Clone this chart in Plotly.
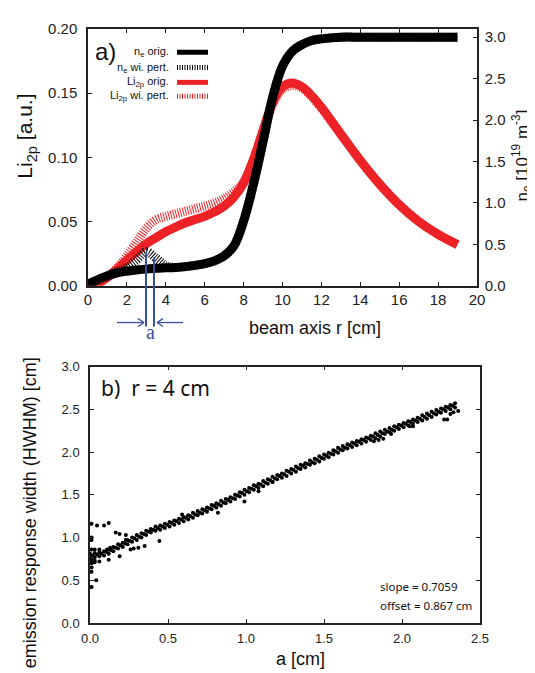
import plotly.graph_objects as go

# ---- panel a) : profiles along the beam axis ----
r_cm = [0, 0.5, 1, 1.5, 2, 2.5, 3, 3.5, 4, 4.5, 5, 5.5, 6, 6.5, 7, 7.5,
        8, 8.5, 9, 9.5, 10, 10.5, 11, 11.5, 12, 13, 14, 15, 16, 17, 18, 19]

# electron density [1e19 m^-3] (right axis)
ne_orig = [0.02, 0.07, 0.12, 0.155, 0.175, 0.19, 0.2, 0.21, 0.215, 0.22, 0.23, 0.245,
           0.265, 0.30, 0.36, 0.48, 0.78, 1.22, 1.74, 2.28, 2.65, 2.83, 2.91, 2.96,
           2.98, 3.0, 3.0, 3.0, 3.0, 3.0, 3.0, 3.0]
ne_pert = [0.02, 0.07, 0.12, 0.17, 0.22, 0.31, 0.41, 0.33, 0.24, 0.22, 0.23, 0.245,
           0.265, 0.30, 0.36, 0.48, 0.78, 1.22, 1.74, 2.28, 2.65, 2.83, 2.91, 2.96,
           2.98, 3.0, 3.0, 3.0, 3.0, 3.0, 3.0, 3.0]

# Li2p emission [a.u.] (left axis)
li_orig = [0.0, 0.002, 0.0064, 0.013, 0.020, 0.0265, 0.0327, 0.0374, 0.042, 0.0456,
           0.049, 0.0515, 0.054, 0.0575, 0.062, 0.069, 0.080, 0.098, 0.121, 0.143,
           0.155, 0.158, 0.155, 0.148, 0.139, 0.118, 0.0975, 0.079, 0.063, 0.050,
           0.040, 0.032]
li_pert = [0.0, 0.002, 0.0066, 0.014, 0.023, 0.034, 0.0446, 0.0515, 0.054, 0.056,
           0.058, 0.060, 0.062, 0.0644, 0.068, 0.073, 0.081, 0.098, 0.120, 0.141,
           0.153, 0.156, 0.154, 0.147, 0.138, 0.118, 0.0975, 0.079, 0.063, 0.050,
           0.040, 0.032]

# ---- panel b) : response width vs perturbation width ----
band_a = [0.00, 0.03, 0.06, 0.09, 0.12, 0.15, 0.18, 0.21, 0.24, 0.27, 0.30, 0.33,
          0.36, 0.39, 0.42, 0.45, 0.48, 0.51, 0.54, 0.57, 0.60, 0.63, 0.66, 0.69,
          0.72, 0.75, 0.78, 0.81, 0.84, 0.87, 0.90, 0.93, 0.96, 0.99, 1.02, 1.05,
          1.08, 1.11, 1.14, 1.17, 1.20, 1.23, 1.26, 1.29, 1.32, 1.35, 1.38, 1.41,
          1.44, 1.47, 1.50, 1.53, 1.56, 1.59, 1.62, 1.65, 1.68, 1.71, 1.74, 1.77,
          1.80, 1.83, 1.86, 1.89, 1.92, 1.95, 1.98, 2.01, 2.04, 2.07, 2.10, 2.13,
          2.16, 2.19, 2.22, 2.25, 2.28, 2.31, 2.34]
band_w_hi = [0.81, 0.82, 0.83, 0.84, 0.86, 0.89, 0.92, 0.94, 0.97, 1.00, 1.03, 1.05,
             1.08, 1.10, 1.13, 1.14, 1.16, 1.18, 1.20, 1.22, 1.24, 1.26, 1.29, 1.31,
             1.33, 1.35, 1.38, 1.40, 1.43, 1.45, 1.47, 1.50, 1.53, 1.56, 1.58, 1.61,
             1.63, 1.66, 1.68, 1.71, 1.73, 1.75, 1.78, 1.80, 1.83, 1.85, 1.87, 1.90,
             1.92, 1.95, 1.97, 1.99, 2.02, 2.05, 2.07, 2.09, 2.11, 2.13, 2.15, 2.17,
             2.19, 2.22, 2.24, 2.26, 2.28, 2.30, 2.32, 2.34, 2.36, 2.38, 2.40, 2.43,
             2.45, 2.47, 2.49, 2.51, 2.53, 2.55, 2.57]
band_w_lo = [0.76, 0.77, 0.78, 0.79, 0.81, 0.84, 0.87, 0.89, 0.92, 0.95, 0.97, 1.00,
             1.03, 1.06, 1.08, 1.09, 1.11, 1.13, 1.15, 1.17, 1.19, 1.21, 1.23, 1.26,
             1.28, 1.30, 1.33, 1.35, 1.37, 1.40, 1.42, 1.45, 1.48, 1.50, 1.53, 1.56,
             1.58, 1.60, 1.63, 1.65, 1.68, 1.70, 1.72, 1.75, 1.77, 1.80, 1.82, 1.85,
             1.87, 1.89, 1.92, 1.94, 1.97, 1.99, 2.02, 2.04, 2.06, 2.08, 2.10, 2.12,
             2.14, 2.16, 2.18, 2.21, 2.23, 2.25, 2.27, 2.29, 2.31, 2.33, 2.35, 2.37,
             2.39, 2.41, 2.44, 2.46, 2.48, 2.50, 2.52]
band_a_mid = [0.015, 0.045, 0.075, 0.105, 0.135, 0.165, 0.195, 0.225, 0.255, 0.285,
              0.315, 0.345, 0.375, 0.405, 0.435, 0.465, 0.495, 0.525, 0.555, 0.585,
              0.615, 0.645, 0.675, 0.705, 0.735, 0.765, 0.795, 0.825, 0.855, 0.885,
              0.915, 0.945, 0.975, 1.005, 1.035, 1.065, 1.095, 1.125, 1.155, 1.185,
              1.215, 1.245, 1.275, 1.305, 1.335, 1.365, 1.395, 1.425, 1.455, 1.485,
              1.515, 1.545, 1.575, 1.605, 1.635, 1.665, 1.695, 1.725, 1.755, 1.785,
              1.815, 1.845, 1.875, 1.905, 1.935, 1.965, 1.995, 2.025, 2.055, 2.085,
              2.115, 2.145, 2.175, 2.205, 2.235, 2.265, 2.295, 2.325]
band_w_mid = [0.79, 0.80, 0.81, 0.83, 0.85, 0.88, 0.91, 0.93, 0.96, 0.99, 1.01, 1.04,
              1.07, 1.09, 1.11, 1.13, 1.15, 1.17, 1.19, 1.21, 1.23, 1.25, 1.27, 1.29,
              1.32, 1.34, 1.37, 1.39, 1.41, 1.44, 1.46, 1.49, 1.52, 1.54, 1.57, 1.60,
              1.62, 1.64, 1.67, 1.69, 1.72, 1.74, 1.77, 1.79, 1.81, 1.84, 1.86, 1.88,
              1.91, 1.93, 1.96, 1.98, 2.01, 2.03, 2.05, 2.08, 2.10, 2.12, 2.14, 2.16,
              2.18, 2.20, 2.22, 2.24, 2.26, 2.29, 2.31, 2.33, 2.35, 2.37, 2.39, 2.41,
              2.43, 2.45, 2.47, 2.50, 2.52, 2.54]
# scattered points away from the main band
spread_a = [0.01, 0.01, 0.01, 0.01, 0.01, 0.01, 0.01, 0.01, 0.01, 0.01, 0.03, 0.03,
            0.03, 0.04, 0.045, 0.06, 0.06, 0.09, 0.11, 0.12, 0.12, 0.13, 0.165, 0.19,
            0.19, 0.23, 0.23, 0.26, 0.28, 0.31, 0.35, 0.445, 0.59, 0.82, 0.99, 1.08,
            1.17, 1.82, 1.85, 1.88, 1.93, 2.05, 2.07, 2.27, 2.29, 2.31, 2.33, 2.36]
spread_w = [0.42, 0.60, 0.65, 0.70, 0.72, 0.74, 0.86, 0.97, 1.00, 1.16, 0.71, 0.73,
            0.86, 0.50, 1.14, 0.72, 0.86, 1.14, 0.86, 1.17, 0.74, 0.88, 1.06, 1.04,
            0.78, 1.03, 0.97, 0.86, 0.87, 0.88, 0.90, 0.96, 1.27, 1.29, 1.42, 1.54,
            1.65, 2.125, 2.14, 2.155, 2.21, 2.30, 2.30, 2.38, 2.38, 2.445, 2.465, 2.48]

# page body has an 8px margin, so figure is 8px smaller and coords are shifted
OFF = 8
W, H = 527, 665
ML, MR, MT, MB = 80, 55, 14, 50
BLUE = "#3b4ea0"
RED = "#ec2227"
SANS = "Liberation Sans, Arial, sans-serif"
NARROW = "Liberation Sans Narrow, Liberation Sans, sans-serif"
MYR = "Noto Sans, Open Sans, sans-serif"


def px_x(px):
    # screen pixel -> paper x
    return (px - OFF - ML) / (W - ML - MR)


def px_y(py):
    # screen pixel -> paper y
    return (H - MB - (py - OFF)) / (H - MT - MB)


fig = go.Figure()

# perturbed curves first (hatched), originals on top
fig.add_trace(go.Scatter(x=r_cm, y=ne_pert, yaxis="y2", mode="lines",
                         line=dict(color="black", width=9, dash="1px,1.5px", shape="spline")))
fig.add_trace(go.Scatter(x=r_cm, y=li_pert, mode="lines",
                         line=dict(color=RED, width=9, dash="1px,1.5px", shape="spline")))
fig.add_trace(go.Scatter(x=r_cm, y=ne_orig, yaxis="y2", mode="lines",
                         line=dict(color="black", width=9, shape="spline")))
fig.add_trace(go.Scatter(x=r_cm, y=li_orig, mode="lines",
                         line=dict(color=RED, width=9, shape="spline")))

dot = dict(color="black", size=4, symbol="circle")
for xs, ys in [(band_a, band_w_hi), (band_a, band_w_lo),
               (band_a_mid, band_w_mid), (spread_a, spread_w)]:
    fig.add_trace(go.Scatter(x=xs, y=ys, xaxis="x2", yaxis="y3",
                             mode="markers", marker=dot))

axis_common = dict(showgrid=False, zeroline=False, showline=True, linecolor="#222",
                   linewidth=1.5, ticks="inside", ticklen=4, tickcolor="#222",
                   tickwidth=1)
top_font = dict(family=SANS, size=15, color="#222")
bot_font = dict(family=NARROW, size=13, color="#222")

fig.update_layout(
    width=W, height=H, showlegend=False,
    margin=dict(l=ML, r=MR, t=MT, b=MB),
    plot_bgcolor="white", paper_bgcolor="white",
    xaxis=dict(domain=[0, px_x(477)], anchor="y", range=[0, 20], dtick=2,
               mirror="ticks", tickfont=top_font, ticklabelstandoff=0, **axis_common),
    yaxis=dict(domain=[px_y(281.7), 1], anchor="x", range=[0, 0.2], dtick=0.05,
               tickformat=".2f", mirror=True, tickfont=top_font,
               ticklabelstandoff=6, **axis_common),
    yaxis2=dict(overlaying="y", side="right", anchor="x", range=[0, 3.099], dtick=0.5,
                tickformat=".1f", tickfont=top_font, ticklabelstandoff=3,
                **axis_common),
    xaxis2=dict(domain=[px_x(90), 1], anchor="y3", range=[0, 2.5], dtick=0.5,
                tickformat=".1f", mirror="ticks", tickfont=bot_font,
                ticklabelstandoff=3, **axis_common),
    yaxis3=dict(domain=[0, px_y(363.5)], anchor="x2", range=[0, 3.0], dtick=0.5,
                tickformat=".1f", mirror="ticks", tickfont=bot_font,
                ticklabelstandoff=6, **axis_common),
)

ann = []


def text(px, py, s, size, family=SANS, color="#111", xanchor="center", angle=0):
    ann.append(dict(x=px_x(px), y=px_y(py), xref="paper", yref="paper", text=s,
                    showarrow=False, xanchor=xanchor, yanchor="middle", textangle=angle,
                    font=dict(family=family, size=size, color=color)))


# axis titles
text(315, 325, "beam axis r [cm]", 18)
text(26, 131, "Li<sub>2p</sub> [a.u.]", 21, angle=-90)
text(522, 150, "n<sub>e</sub> [10<sup>19</sup> m<sup>-3</sup>]", 17, angle=-90)
text(300, 659, "a [cm]", 18, family=NARROW)
text(30, 512, "emission response width (HWHM) [cm]", 18, angle=-90)

# panel labels
text(93, 45, "a)", 24, xanchor="left")
text(99, 385, "b)  r = 4 cm", 21, family=MYR, xanchor="left")
text(378, 586, "slope = 0.7059", 11.5, family=MYR, xanchor="left")
text(378, 605, "offset = 0.867 cm", 11.5, family=MYR, xanchor="left")

# hand-made legend
legend_rows = [("n<sub>e</sub> orig.", "black", None, 45.5),
               ("n<sub>e</sub> wi. pert.", "black", "1px,1.5px", 61),
               ("Li<sub>2p</sub> orig.", RED, None, 76),
               ("Li<sub>2p</sub> wi. pert.", RED, "1px,1.5px", 90)]
shapes = []
for label, col, dash, yy in legend_rows:
    text(171, yy, label, 11, xanchor="right")
    shapes.append(dict(type="line", xref="paper", yref="paper",
                       x0=px_x(177), x1=px_x(208), y0=px_y(yy), y1=px_y(yy),
                       line=dict(color=col, width=5, dash=dash or "solid")))


def seg(x0, y0, x1, y1, width):
    shapes.append(dict(type="line", xref="paper", yref="paper",
                       x0=px_x(x0), x1=px_x(x1), y0=px_y(y0), y1=px_y(y1),
                       line=dict(color=BLUE, width=width)))


# perturbation width marker "a"
seg(146, 248, 146, 323, 2)
seg(154, 253, 154, 323, 2)
seg(117, 319, 144, 319, 1.3)
seg(157, 319, 183, 319, 1.3)
for tip, back in [(144, 138), (157, 163)]:
    seg(back, 315, tip, 319, 1.3)
    seg(back, 323, tip, 319, 1.3)
text(150, 329, "a", 20, family="Liberation Serif, serif", color=BLUE)

fig.update_layout(annotations=ann, shapes=shapes)

fig.write_html("out.html")
